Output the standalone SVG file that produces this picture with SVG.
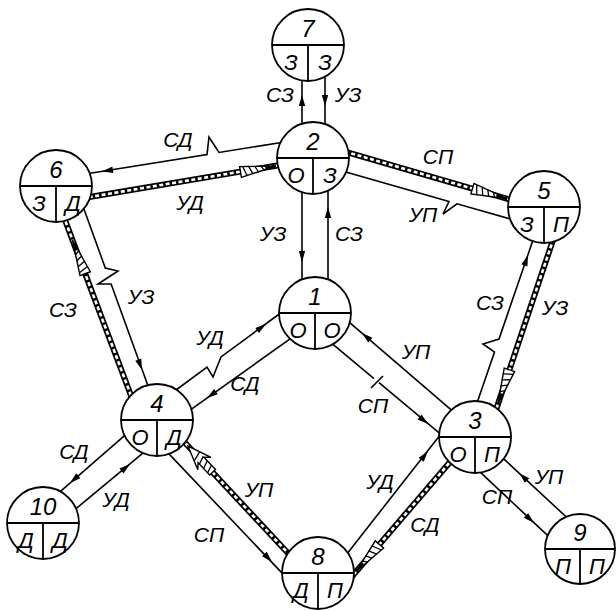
<svg xmlns="http://www.w3.org/2000/svg" xmlns:xlink="http://www.w3.org/1999/xlink" width="616" height="610" viewBox="0 0 616 610">
<style>
.ln{fill:none;stroke:#000;stroke-width:1.6;stroke-linejoin:miter}
.bo{fill:none;stroke:#000;stroke-width:6}
.bi{fill:none;stroke:#fff;stroke-width:2.6;stroke-dasharray:4 2.5}
.nd circle{fill:#fff;stroke:#000;stroke-width:1.8}
.nd path{fill:none;stroke:#000;stroke-width:1.8}
text{font-family:"Liberation Sans","DejaVu Sans",sans-serif;font-style:italic;text-anchor:middle;fill:#000}
.num{font-size:24px}
.val{font-size:22px}
.lbl{font-size:21px}
</style>
<defs>
<path id="sa" d="M0,0 L-11,-3.2 L-11,3.2 Z" fill="#000"/>
<g id="ha">
<path d="M0,0 L-36,-5.5 L-36,5.5 Z" fill="#fff" stroke="#000" stroke-width="1.4"/>
<path d="M-33,-5 L-30,5 M-27,-4.2 L-24,4.2 M-21,-3.3 L-18,3.3 M-15,-2.4 L-12,2.4" stroke="#000" stroke-width="1.3"/>
<path d="M0,0 L-11,-1.7 L-11,1.7 Z" fill="#000"/>
</g>
<g id="hb">
<path d="M0,0 L-24,-9 L-19,-4 L-36,-4 L-36,4 L-19,4 L-24,9 Z" fill="#fff" stroke="#000" stroke-width="1.4"/>
<path d="M-33,-4 L-30,4 M-27,-4 L-24,4 M-21,-4 L-18,4 M-15,-5 L-12,5" stroke="#000" stroke-width="1.3"/>
</g>
</defs>

<g id="connectors">
<!-- 7-2 -->
<path class="ln" d="M302,70 V130 M325,70 V130"/>
<use href="#sa" transform="translate(302,95) rotate(-90)"/>
<use href="#sa" transform="translate(325,106) rotate(90)"/>
<!-- 2-1 -->
<path class="ln" d="M302,185 V287 M328,185 V287"/>
<use href="#sa" transform="translate(302,262) rotate(90)"/>
<use href="#sa" transform="translate(328,207) rotate(-90)"/>
<!-- 2-6 -->
<path class="ln" d="M283,142.2 L219,152.5 L209,137 L207,154.5 L87,173.8"/>
<use href="#sa" transform="translate(102,171.5) rotate(170.8)"/>
<path class="bo" d="M285,164.2 L85,197.8"/>
<path class="bi" d="M285,164.2 L85,197.8"/>
<use href="#ha" transform="translate(276,166) rotate(-9.6)"/>
<!-- 2-5 -->
<path class="bo" d="M345,151.6 L513,200.4"/>
<path class="bi" d="M345,151.6 L513,200.4"/>
<use href="#ha" transform="translate(507,198.7) rotate(16.2)"/>
<path class="ln" d="M344,171.6 L449,201.5 L443,214 L457,203.8 L512,219.4"/>
<!-- 6-4 -->
<path class="bo" d="M63.2,215.3 L131.8,397.7"/>
<path class="bi" d="M63.2,215.3 L131.8,397.7"/>
<use href="#ha" transform="translate(72.5,240) rotate(-110.6)"/>
<path class="ln" d="M83.3,207.3 L105.3,268 L118,271 L98,284 L111.1,284 L148.7,387.7"/>
<use href="#sa" transform="translate(142,370) rotate(70.1)"/>
<!-- 4-1 -->
<path class="ln" d="M176,390 L207,367.2 L213,377 L221,356.9 L282,312"/>
<use href="#sa" transform="translate(266,324) rotate(-36.3)"/>
<path class="ln" d="M294,336.1 L189,410.9"/>
<use href="#sa" transform="translate(207,398) rotate(144.6)"/>
<!-- 1-3 -->
<path class="ln" d="M346.2,319.7 L451.8,410.3"/>
<use href="#sa" transform="translate(362,333) rotate(-139.4)"/>
<path class="ln" d="M331.2,342.8 L374,378.6 M371,388 L383,376 M379,382.7 L441.8,435.2"/>
<use href="#sa" transform="translate(428,424) rotate(39.9)"/>
<!-- 5-3 -->
<path class="ln" d="M476.4,404.7 L494.5,352 L483,344 L499,339 L533.6,238.3"/>
<use href="#sa" transform="translate(528,255) rotate(-71)"/>
<path class="bo" d="M553.6,238.3 L495.4,411.7"/>
<path class="bi" d="M553.6,238.3 L495.4,411.7"/>
<use href="#ha" transform="translate(498,404) rotate(108.5)"/>
<!-- 4-10 -->
<path class="ln" d="M126.8,433.7 L58.2,493.3"/>
<use href="#sa" transform="translate(70,483) rotate(139)"/>
<path class="ln" d="M74.2,510.2 L146.8,449.8"/>
<use href="#sa" transform="translate(130,464) rotate(-39.7)"/>
<!-- 4-8 -->
<path class="ln" d="M166.6,451.4 L285.4,576.6"/>
<use href="#sa" transform="translate(272,562) rotate(46.5)"/>
<path class="bo" d="M290.4,555.7 L183.6,441.3"/>
<path class="bi" d="M290.4,555.7 L183.6,441.3"/>
<use href="#hb" transform="translate(188,446) rotate(-133.1)"/>
<!-- 8-3 -->
<path class="ln" d="M346.9,553.9 L440.1,435.1"/>
<use href="#sa" transform="translate(428,451) rotate(-51.9)"/>
<path class="bo" d="M453.3,458.2 L351.7,576.8"/>
<path class="bi" d="M453.3,458.2 L351.7,576.8"/>
<use href="#ha" transform="translate(356,571.8) rotate(130.6)"/>
<!-- 3-9 -->
<path class="ln" d="M566.7,517.4 L501.3,456.6"/>
<use href="#sa" transform="translate(519,473) rotate(-137.1)"/>
<path class="ln" d="M476.4,468.6 L548.6,536.4"/>
<use href="#sa" transform="translate(534,523) rotate(43.2)"/>
</g>

<g id="labels">
<text class="lbl" x="280" y="102">СЗ</text>
<text class="lbl" x="348" y="102">УЗ</text>
<text class="lbl" x="273" y="241">УЗ</text>
<text class="lbl" x="349" y="241">СЗ</text>
<text class="lbl" x="178" y="147">СД</text>
<text class="lbl" x="190" y="210">УД</text>
<text class="lbl" x="438" y="164">СП</text>
<text class="lbl" x="423" y="222">УП</text>
<text class="lbl" x="63" y="317">СЗ</text>
<text class="lbl" x="141" y="304">УЗ</text>
<text class="lbl" x="210" y="345">УД</text>
<text class="lbl" x="245" y="391">СД</text>
<text class="lbl" x="416" y="359">УП</text>
<text class="lbl" x="373" y="413">СП</text>
<text class="lbl" x="490" y="310">СЗ</text>
<text class="lbl" x="555" y="315">УЗ</text>
<text class="lbl" x="74" y="459">СД</text>
<text class="lbl" x="116" y="507">УД</text>
<text class="lbl" x="209" y="542">СП</text>
<text class="lbl" x="259" y="497">УП</text>
<text class="lbl" x="380" y="489">УД</text>
<text class="lbl" x="425" y="532">СД</text>
<text class="lbl" x="549" y="484">УП</text>
<text class="lbl" x="497" y="504">СП</text>
</g>

<g id="node1" class="nd"><circle cx="315" cy="313" r="36"/><path d="M279,313 H351 M315,313 V349"/><text class="num" x="315" y="305">1</text><text class="val" x="298" y="338">О</text><text class="val" x="332" y="338">О</text></g>
<g id="node2" class="nd"><circle cx="313" cy="158" r="36"/><path d="M277,158 H349 M313,158 V194"/><text class="num" x="313" y="150">2</text><text class="val" x="296" y="183">О</text><text class="val" x="330" y="183">З</text></g>
<g id="node3" class="nd"><circle cx="475" cy="437" r="36"/><path d="M439,437 H511 M475,437 V473"/><text class="num" x="475" y="429">3</text><text class="val" x="458" y="462">О</text><text class="val" x="492" y="462">П</text></g>
<g id="node4" class="nd"><circle cx="157" cy="420" r="36"/><path d="M121,420 H193 M157,420 V456"/><text class="num" x="157" y="412">4</text><text class="val" x="140" y="445">О</text><text class="val" x="174" y="445">Д</text></g>
<g id="node5" class="nd"><circle cx="544" cy="207" r="36"/><path d="M508,207 H580 M544,207 V243"/><text class="num" x="544" y="199">5</text><text class="val" x="527" y="232">З</text><text class="val" x="561" y="232">П</text></g>
<g id="node6" class="nd"><circle cx="56" cy="186" r="36"/><path d="M20,186 H92 M56,186 V222"/><text class="num" x="56" y="178">6</text><text class="val" x="39" y="211">З</text><text class="val" x="73" y="211">Д</text></g>
<g id="node7" class="nd"><circle cx="308" cy="45" r="36"/><path d="M272,45 H344 M308,45 V81"/><text class="num" x="308" y="37">7</text><text class="val" x="291" y="70">З</text><text class="val" x="325" y="70">З</text></g>
<g id="node8" class="nd"><circle cx="318" cy="573" r="36"/><path d="M282,573 H354 M318,573 V609"/><text class="num" x="318" y="565">8</text><text class="val" x="301" y="598">Д</text><text class="val" x="335" y="598">П</text></g>
<g id="node9" class="nd"><circle cx="580" cy="549" r="35"/><path d="M545,549 H615 M580,549 V584"/><text class="num" x="580" y="541">9</text><text class="val" x="563" y="574">П</text><text class="val" x="597" y="574">П</text></g>
<g id="node10" class="nd"><circle cx="43" cy="523" r="36"/><path d="M7,523 H79 M43,523 V559"/><text class="num" x="43" y="515">10</text><text class="val" x="26" y="548">Д</text><text class="val" x="60" y="548">Д</text></g>
</svg>
